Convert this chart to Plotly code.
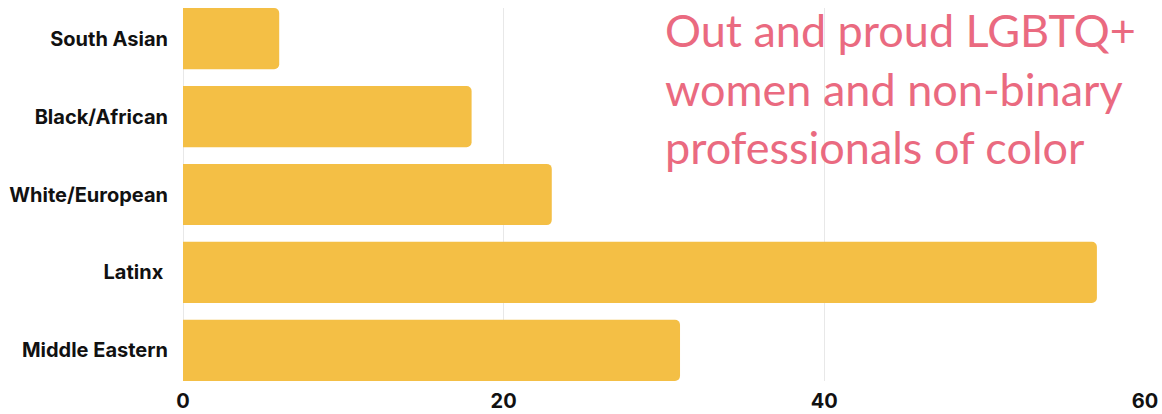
import plotly.graph_objects as go

categories = ["South Asian", "Black/African", "White/European", "Latinx ", "Middle Eastern"]
values = [6, 18, 23, 57, 31]
x_ticks = [0, 20, 40, 60]
title_lines = ["Out and proud LGBTQ+", "women and non-binary", "professionals of color"]

W, H = 1162, 414
fig = go.Figure(
    go.Bar(
        x=values,
        y=categories,
        orientation="h",
        marker=dict(color="#F4BF45", cornerradius=5, line=dict(width=0)),
        hoverinfo="x+y",
    )
)

half = (1 - 0.215) / 2
fig.update_layout(
    width=W,
    height=H,
    margin=dict(l=183, r=17, t=8, b=33),
    paper_bgcolor="white",
    plot_bgcolor="white",
    bargap=0.215,
    showlegend=False,
    font=dict(family="Inter", color="#111111"),
    xaxis=dict(
        range=[0, 60],
        tickvals=x_ticks,
        ticktext=[str(t) for t in x_ticks],
        showgrid=True,
        gridcolor="#e8e8e8",
        gridwidth=1,
        zeroline=True,
        zerolinecolor="#e8e8e8",
        zerolinewidth=1,
        showline=False,
        ticks="",
        automargin=False,
        ticklabelstandoff=6,
        tickfont=dict(family="Inter", size=20, color="#111111", weight="bold"),
        fixedrange=True,
    ),
    yaxis=dict(
        type="category",
        categoryorder="array",
        categoryarray=categories,
        range=[len(categories) - 1 + half, -half],
        showgrid=False,
        zeroline=False,
        showline=False,
        ticks="",
        automargin=False,
        ticklabelstandoff=14,
        tickfont=dict(family="Inter", size=20, color="#111111", weight="bold"),
        fixedrange=True,
    ),
)

fig.add_annotation(
    text="<br>".join(title_lines),
    xref="paper", yref="paper",
    x=(663 - 183) / (W - 183 - 17), y=1.02,
    xanchor="left", yanchor="top",
    align="left",
    showarrow=False,
    font=dict(family="Lato", size=45, color="#EA6A80"),
)

fig.write_html("out.html")
